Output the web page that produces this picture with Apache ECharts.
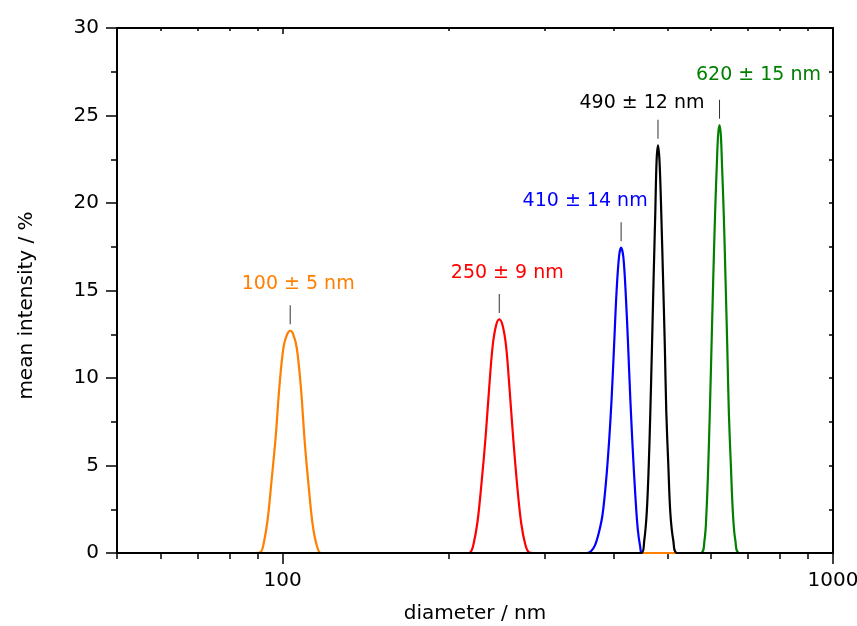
<!DOCTYPE html>
<html>
<head>
<meta charset="utf-8">
<script src="https://cdn.jsdelivr.net/npm/echarts@6/dist/echarts.min.js"></script>
<style>
  html, body { margin: 0; padding: 0; background: #fff; }
  #chart { width: 857px; height: 626px; }
</style>
</head>
<body>
<div id="chart"></div>
<script>
// Particle size distributions: diameter (nm) vs. mean intensity (%)
const d100 = [50, 89.3, 91.2, 92.3, 93.9, 95.5, 97.1, 98.7, 100.4, 101.9, 103.2, 104.5, 106.1, 107.9, 109.7, 111.5, 113.4, 115.4, 117.3, 120.8, 1000];
const i100 = [0, 0, 0.05, 0.5, 1.9, 4.2, 6.6, 9.6, 11.8, 12.5, 12.7, 12.5, 11.7, 9.5, 6.3, 3.8, 1.6, 0.4, 0, 0, 0];

const d250 = [50, 215.8, 219.4, 222.2, 226.0, 229.8, 233.7, 237.1, 240.7, 244.2, 247.5, 251.0, 254.7, 258.5, 262.3, 266.7, 271.3, 275.9, 279.9, 284.7, 1000];
const i250 = [0, 0, 0.05, 0.5, 1.8, 4.0, 6.6, 9.3, 11.8, 13.0, 13.35, 13.0, 11.8, 9.3, 6.6, 3.9, 1.7, 0.5, 0.05, 0, 0];

const d410 = [50, 357.2, 363.3, 369.5, 375.7, 381.3, 386.9, 391.9, 396.0, 400.2, 404.4, 408.7, 412.1, 416.0, 420.3, 424.4, 428.4, 432.5, 437.1, 441.7, 446.4, 450.1, 1000];
const i410 = [0, 0, 0.1, 0.45, 1.2, 2.2, 4.1, 6.4, 8.8, 11.9, 15.0, 17.0, 17.45, 16.9, 14.7, 11.8, 8.7, 6.0, 3.4, 1.4, 0.35, 0, 0];

const d490 = [50, 448.3, 453.9, 458.7, 462.6, 465.5, 468.9, 472.0, 475.4, 478.0, 480.8, 483.9, 487.5, 491.2, 494.8, 497.9, 502.1, 506.3, 512.7, 521.4, 1000];
const i490 = [0, 0, 0.7, 2.3, 5.0, 7.9, 11.8, 15.6, 19.4, 22.4, 23.3, 22.4, 19.4, 15.6, 11.8, 8.0, 5.0, 2.3, 0.7, 0, 0];

const d620 = [50, 574.3, 584.0, 588.9, 593.4, 597.2, 601.5, 605.8, 610.6, 615.2, 618.4, 622.0, 625.4, 628.3, 633.1, 637.9, 642.5, 646.8, 652.3, 657.8, 664.7, 676.5, 1000];
const i620 = [0, 0, 0.7, 2.3, 5.0, 8.0, 11.8, 15.6, 19.4, 22.3, 23.9, 24.45, 23.9, 22.3, 19.4, 15.6, 11.8, 8.0, 5.0, 2.3, 0.7, 0, 0];

const peakLabels = ['100 ± 5 nm', '250 ± 9 nm', '410 ± 14 nm', '490 ± 12 nm', '620 ± 15 nm'];

const xMajorTicks = [100, 1000];
const xMinorTicks = [50, 60, 70, 80, 90, 200, 300, 400, 500, 600, 700, 800, 900];

// drawing styles
const FONT = 'DejaVu Sans';
const styles = [
  { color: '#ff7f00', offset: [8, -47] },
  { color: '#ff0000', offset: [8, -46] },
  { color: '#0000ff', offset: [-36, -47] },
  { color: '#000000', offset: [-16, -42] },
  { color: '#008000', offset: [39, -50] }
];

const sets = [[d100, i100], [d250, i250], [d410, i410], [d490, i490], [d620, i620]];

function makeSeries(k) {
  const [xs, ys] = sets[k];
  const data = xs.map((x, j) => [x, ys[j]]);
  let top = data[0];
  data.forEach(p => { if (p[1] > top[1]) top = p; });
  const st = styles[k];
  return {
    type: 'line',
    name: peakLabels[k],
    xAxisIndex: 0,
    yAxisIndex: 0,
    data: data,
    smooth: 0.35,
    showSymbol: false,
    symbol: 'none',
    lineStyle: { color: st.color, width: 2.2 },
    itemStyle: { color: st.color },
    markPoint: {
      silent: true,
      data: [
        {
          coord: top,
          symbol: 'rect',
          symbolSize: [1, 19],
          symbolOffset: [0, -16],
          itemStyle: { color: '#333' },
          label: { show: false }
        },
        {
          coord: top,
          symbol: 'circle',
          symbolSize: 0,
          label: {
            show: true,
            position: 'inside',
            offset: st.offset,
            formatter: peakLabels[k],
            color: st.color,
            fontFamily: FONT,
            fontSize: 19
          }
        }
      ]
    }
  };
}

// draw order keeps the black curve's baseline on top
const order = [1, 2, 4, 0, 3];

const axisLine = { show: true, lineStyle: { color: '#000', width: 2 } };

const option = {
  animation: false,
  backgroundColor: '#fff',
  grid: { left: 117, right: 24, top: 28, bottom: 73, containLabel: false, outerBoundsMode: 'none' },
  xAxis: [
    {
      type: 'log', logBase: 10, min: 50, max: 1000, position: 'bottom',
      name: 'diameter / nm', nameLocation: 'middle', nameGap: 51,
      nameTextStyle: { fontFamily: FONT, fontSize: 20, color: '#000' },
      axisLine: axisLine,
      axisTick: { show: true, customValues: xMajorTicks, length: 11, lineStyle: { color: '#000', width: 1.5 } },
      axisLabel: { show: true, customValues: xMajorTicks, margin: 18, fontFamily: FONT, fontSize: 20, color: '#000', formatter: v => String(v) },
      splitLine: { show: false }, minorTick: { show: false }
    },
    {
      type: 'log', logBase: 10, min: 50, max: 1000, position: 'bottom',
      axisLine: { show: false },
      axisTick: { show: true, customValues: xMinorTicks, length: 6, lineStyle: { color: '#000', width: 1.5 } },
      axisLabel: { show: false },
      splitLine: { show: false }
    },
    {
      type: 'log', logBase: 10, min: 50, max: 1000, position: 'top',
      axisLine: axisLine,
      axisTick: { show: true, inside: true, customValues: xMinorTicks, length: 3, lineStyle: { color: '#000', width: 1.5 } },
      axisLabel: { show: false },
      splitLine: { show: false }
    },
    {
      type: 'log', logBase: 10, min: 50, max: 1000, position: 'top',
      axisLine: { show: false },
      axisTick: { show: true, inside: true, customValues: xMajorTicks, length: 6, lineStyle: { color: '#000', width: 1.5 } },
      axisLabel: { show: false },
      splitLine: { show: false }
    }
  ],
  yAxis: [
    {
      type: 'value', min: 0, max: 30, interval: 5, position: 'left',
      name: 'mean intensity / %', nameLocation: 'middle', nameGap: 80,
      nameTextStyle: { fontFamily: FONT, fontSize: 20, color: '#000', padding: [0, 30, 0, 0] },
      axisLine: axisLine,
      axisTick: { show: true, length: 11, lineStyle: { color: '#000', width: 1.5 } },
      minorTick: { show: true, splitNumber: 2, length: 6, lineStyle: { color: '#000', width: 1.5 } },
      axisLabel: { margin: 18, fontFamily: FONT, fontSize: 20, color: '#000' },
      splitLine: { show: false }
    },
    {
      type: 'value', min: 0, max: 30, interval: 5, position: 'right',
      axisLine: axisLine,
      axisTick: { show: true, inside: true, length: 4, lineStyle: { color: '#000', width: 1.5 } },
      minorTick: { show: true, splitNumber: 2, length: 4, lineStyle: { color: '#000', width: 1.5 } },
      axisLabel: { show: false },
      splitLine: { show: false }
    }
  ],
  series: order.map(makeSeries)
};

const chart = echarts.init(document.getElementById('chart'), null, { renderer: 'canvas' });
chart.setOption(option);
</script>
</body>
</html>
